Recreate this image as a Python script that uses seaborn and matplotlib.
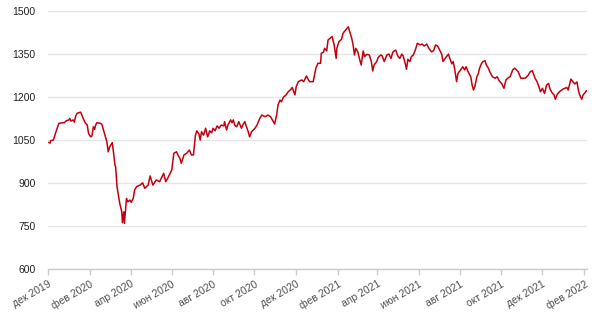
import matplotlib
matplotlib.use("Agg")
import matplotlib.pyplot as plt
import numpy as np
import pandas as pd
import seaborn as sns

# ---- data ----
start_date = "2019-12-01"
day_offsets = [
    1, 3, 4, 8, 11, 13, 16, 21, 24, 27,
    31, 32, 34, 37, 39, 41, 43, 48, 49, 52,
    55, 58, 60, 63, 65, 67, 69, 70, 72, 78,
    80, 82, 85, 87, 89, 91, 95, 97, 99, 100,
    102, 106, 109, 110, 112, 113, 116, 118, 121, 123,
    126, 128, 131, 136, 140, 143, 148, 151, 155, 160,
    165, 171, 174, 177, 183, 186, 190, 192, 195, 197,
    201, 205, 209, 212, 215, 218, 220, 223, 225, 227,
    230, 233, 236, 239, 242, 244, 247, 250, 253, 256,
    260, 261, 264, 266, 270, 272, 274, 276, 279, 282,
    284, 286, 288, 291, 293, 296, 298, 301, 306, 309,
    313, 316, 321, 325, 329, 333, 335, 338, 340, 343,
    345, 348, 352, 355, 359, 361, 365, 367, 370, 375,
    378, 382, 385, 387, 392, 396, 399, 403, 404, 407,
    409, 412, 414, 418, 420, 423, 426, 427, 430, 434,
    436, 440, 444, 446, 449, 451, 453, 455, 458, 461,
    463, 466, 468, 471, 475, 478, 480, 482, 486, 488,
    492, 494, 497, 501, 504, 507, 510, 514, 517, 520,
    523, 525, 528, 530, 532, 535, 537, 540, 543, 546,
    550, 553, 556, 560, 563, 567, 570, 573, 576, 579,
    582, 584, 589, 592, 594, 597, 599, 601, 604, 606,
    610, 613, 616, 618, 621, 625, 627, 629, 631, 634,
    636, 638, 641, 643, 646, 648, 651, 653, 657, 661,
    664, 667, 671, 674, 677, 680, 683, 687, 690, 695,
    699, 703, 706, 710, 713, 716, 720, 723, 726, 728,
    731, 734, 737, 740, 742, 745, 748, 750, 753, 757,
    762, 767, 769, 773, 776, 779, 782, 784, 786, 789,
    791, 794, 796,
]
values = [
    1042, 1039, 1048, 1050, 1073, 1087, 1108, 1110, 1110, 1117,
    1120, 1125, 1116, 1120, 1112, 1134, 1143, 1147, 1143, 1125,
    1110, 1102, 1073, 1061, 1064, 1096, 1087, 1099, 1110, 1108,
    1102, 1085, 1061, 1044, 1009, 1025, 1041, 1004, 963, 957,
    888, 830, 801, 762, 800, 760, 847, 835, 841, 833,
    847, 876, 888, 893, 901, 882, 893, 925, 893, 911,
    905, 934, 905, 917, 946, 1004, 1009, 998, 986, 969,
    998, 1004, 1015, 998, 998, 1067, 1082, 1071, 1050, 1079,
    1067, 1091, 1061, 1082, 1075, 1091, 1082, 1099, 1091, 1102,
    1099, 1114, 1085, 1102, 1120, 1110, 1120, 1102, 1096, 1114,
    1102, 1091, 1102, 1114, 1099, 1079, 1061, 1079, 1091, 1102,
    1125, 1137, 1131, 1137, 1131, 1114, 1106, 1137, 1172, 1189,
    1183, 1199, 1207, 1218, 1226, 1233, 1207, 1236, 1253, 1259,
    1253, 1273, 1259, 1253, 1253, 1300, 1317, 1317, 1352, 1355,
    1369, 1360, 1398, 1406, 1410, 1381, 1334, 1369, 1392, 1401,
    1421, 1433, 1444, 1427, 1404, 1381, 1346, 1369, 1357, 1328,
    1311, 1360, 1340, 1348, 1346, 1323, 1290, 1311, 1323, 1337,
    1346, 1343, 1323, 1346, 1349, 1334, 1357, 1363, 1343, 1334,
    1349, 1343, 1317, 1296, 1331, 1323, 1340, 1346, 1363, 1387,
    1381, 1384, 1377, 1384, 1369, 1357, 1361, 1381, 1377, 1363,
    1349, 1323, 1340, 1349, 1334, 1315, 1323, 1300, 1253, 1282,
    1294, 1305, 1294, 1305, 1288, 1270, 1241, 1224, 1236, 1270,
    1280, 1300, 1317, 1323, 1326, 1311, 1300, 1288, 1270, 1265,
    1270, 1256, 1245, 1230, 1259, 1266, 1270, 1294, 1300, 1288,
    1265, 1265, 1266, 1276, 1288, 1291, 1265, 1253, 1233, 1218,
    1230, 1212, 1241, 1247, 1228, 1215, 1207, 1192, 1210, 1220,
    1228, 1233, 1224, 1262, 1253, 1245, 1252, 1224, 1207, 1192,
    1207, 1215, 1222,
]
y_ticks = [600, 750, 900, 1050, 1200, 1350, 1500]
month_ticks = ["2019-12-01", "2020-02-01", "2020-04-01", "2020-06-01",
               "2020-08-01", "2020-10-01", "2020-12-01", "2021-02-01",
               "2021-04-01", "2021-06-01", "2021-08-01", "2021-10-01",
               "2021-12-01", "2022-02-01"]
month_labels = ["дек 2019", "фев 2020", "апр 2020", "июн 2020",
                "авг 2020", "окт 2020", "дек 2020", "фев 2021",
                "апр 2021", "июн 2021", "авг 2021", "окт 2021",
                "дек 2021", "фев 2022"]

df = pd.DataFrame({
    "date": pd.Timestamp(start_date) + pd.to_timedelta(day_offsets, unit="D"),
    "value": values,
})

sns.set_theme(style="white")
plt.rcParams["font.family"] = ["Liberation Sans", "DejaVu Sans"]

fig = plt.figure(figsize=(6, 3.15), dpi=100)
ax = fig.add_axes([0.080, 0.145, 0.898, 0.821])

sns.lineplot(data=df, x="date", y="value", ax=ax, color="#c4000f",
             linewidth=1.1)

ax.set_ylim(600, 1500)
ax.set_yticks(y_ticks)
ax.set_xlim(pd.Timestamp(start_date), df["date"].max() + pd.Timedelta(days=0.5))
ax.set_xticks(pd.to_datetime(month_ticks))
ax.set_xticklabels(month_labels, rotation=30, ha="right",
                   rotation_mode="anchor")

ax.grid(axis="y", color="#e6e6e6", linewidth=1)
ax.grid(axis="x", visible=False)
for s in ["top", "right", "left"]:
    ax.spines[s].set_visible(False)
ax.spines["bottom"].set_color("#cccccc")
ax.spines["bottom"].set_linewidth(1)
ax.tick_params(axis="x", bottom=True, length=4, width=1, color="#cccccc",
               labelsize=7.5, labelcolor="#4d4d4d", pad=3)
ax.tick_params(axis="y", length=0, labelsize=7.5, labelcolor="#222222", pad=9)
ax.set_xlabel("")
ax.set_ylabel("")

fig.savefig("out.png", dpi=100)
